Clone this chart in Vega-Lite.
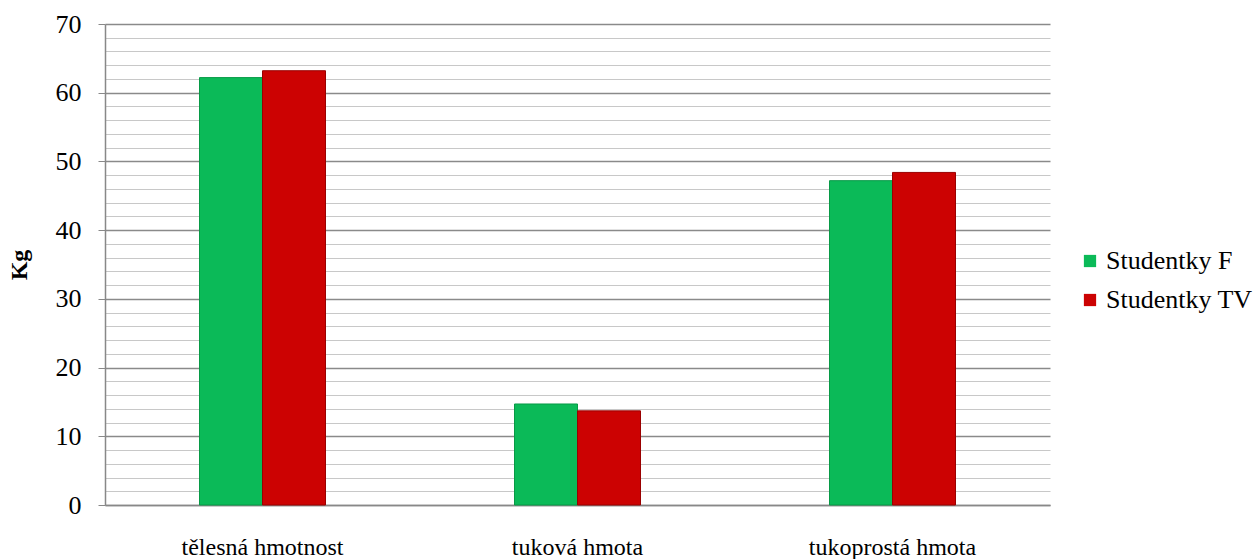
{
  "$schema": "https://vega.github.io/schema/vega-lite/v6.json",
  "width": 945,
  "height": 481,
  "autosize": "none",
  "padding": {"left": 105, "top": 24, "right": 207, "bottom": 54},
  "background": "white",
  "config": {
    "view": {"stroke": null},
    "font": "Liberation Serif"
  },
  "data": {
    "values": [
      {"kategorie": "tělesná hmotnost", "skupina": "Studentky F", "kg": 62.2},
      {"kategorie": "tělesná hmotnost", "skupina": "Studentky TV", "kg": 63.2},
      {"kategorie": "tuková hmota", "skupina": "Studentky F", "kg": 14.7},
      {"kategorie": "tuková hmota", "skupina": "Studentky TV", "kg": 13.7},
      {"kategorie": "tukoprostá hmota", "skupina": "Studentky F", "kg": 47.2},
      {"kategorie": "tukoprostá hmota", "skupina": "Studentky TV", "kg": 48.4}
    ]
  },
  "encoding": {
    "x": {
      "field": "kategorie",
      "type": "nominal",
      "sort": null,
      "scale": {"paddingInner": 0.6, "paddingOuter": 0.3},
      "axis": {
        "title": null,
        "labelAngle": 0,
        "labelFontSize": 24,
        "labelColor": "#000",
        "labelFont": "Liberation Serif",
        "labelPadding": 49,
        "labelBaseline": "alphabetic",
        "ticks": false,
        "domainColor": "#888",
        "domainWidth": 1.5
      }
    },
    "xOffset": {"field": "skupina", "type": "nominal", "scale": {"paddingInner": 0, "paddingOuter": 0}},
    "y": {
      "field": "kg",
      "type": "quantitative",
      "scale": {"domain": [0, 70], "nice": false},
      "axis": {
        "title": "Kg",
        "titleFont": "Liberation Serif",
        "titleFontSize": 24,
        "titleFontWeight": "bold",
        "titleColor": "#000",
        "titlePadding": 24,
        "values": [0,2,4,6,8,10,12,14,16,18,20,22,24,26,28,30,32,34,36,38,40,42,44,46,48,50,52,54,56,58,60,62,64,66,68,70],
        "labelExpr": "datum.value % 10 === 0 ? datum.label : ''",
        "labelFontSize": 26,
        "labelColor": "#000",
        "labelFont": "Liberation Serif",
        "labelPadding": 17,
        "tickSize": 7,
        "tickColor": "#888",
        "tickOpacity": {"condition": {"test": "datum.value % 10 === 0", "value": 1}, "value": 0},
        "grid": true,
        "gridColor": {"condition": {"test": "datum.value % 10 === 0", "value": "#8a8a8a"}, "value": "#c8c8c8"},
        "gridWidth": {"condition": {"test": "datum.value % 10 === 0", "value": 1.5}, "value": 1.2},
        "domainColor": "#888",
        "domainWidth": 1.5
      }
    }
  },
  "layer": [
    {
      "mark": {"type": "bar", "strokeWidth": 1},
      "encoding": {
        "color": {
          "field": "skupina",
          "type": "nominal",
          "scale": {"domain": ["Studentky F", "Studentky TV"], "range": ["#0bba58", "#cc0202"]},
          "legend": {
            "title": null,
            "orient": "none",
            "legendX": 972,
            "legendY": 224,
            "symbolType": "square",
            "symbolSize": 150,
            "symbolStrokeWidth": 0,
            "labelFontSize": 26,
            "labelFont": "Liberation Serif",
            "labelColor": "#000",
            "rowPadding": 13,
            "labelOffset": 3
          }
        },
        "stroke": {
          "field": "skupina",
          "type": "nominal",
          "scale": {"domain": ["Studentky F", "Studentky TV"], "range": ["#079a46", "#9a0000"]},
          "legend": null
        }
      }
    }
  ]
}
